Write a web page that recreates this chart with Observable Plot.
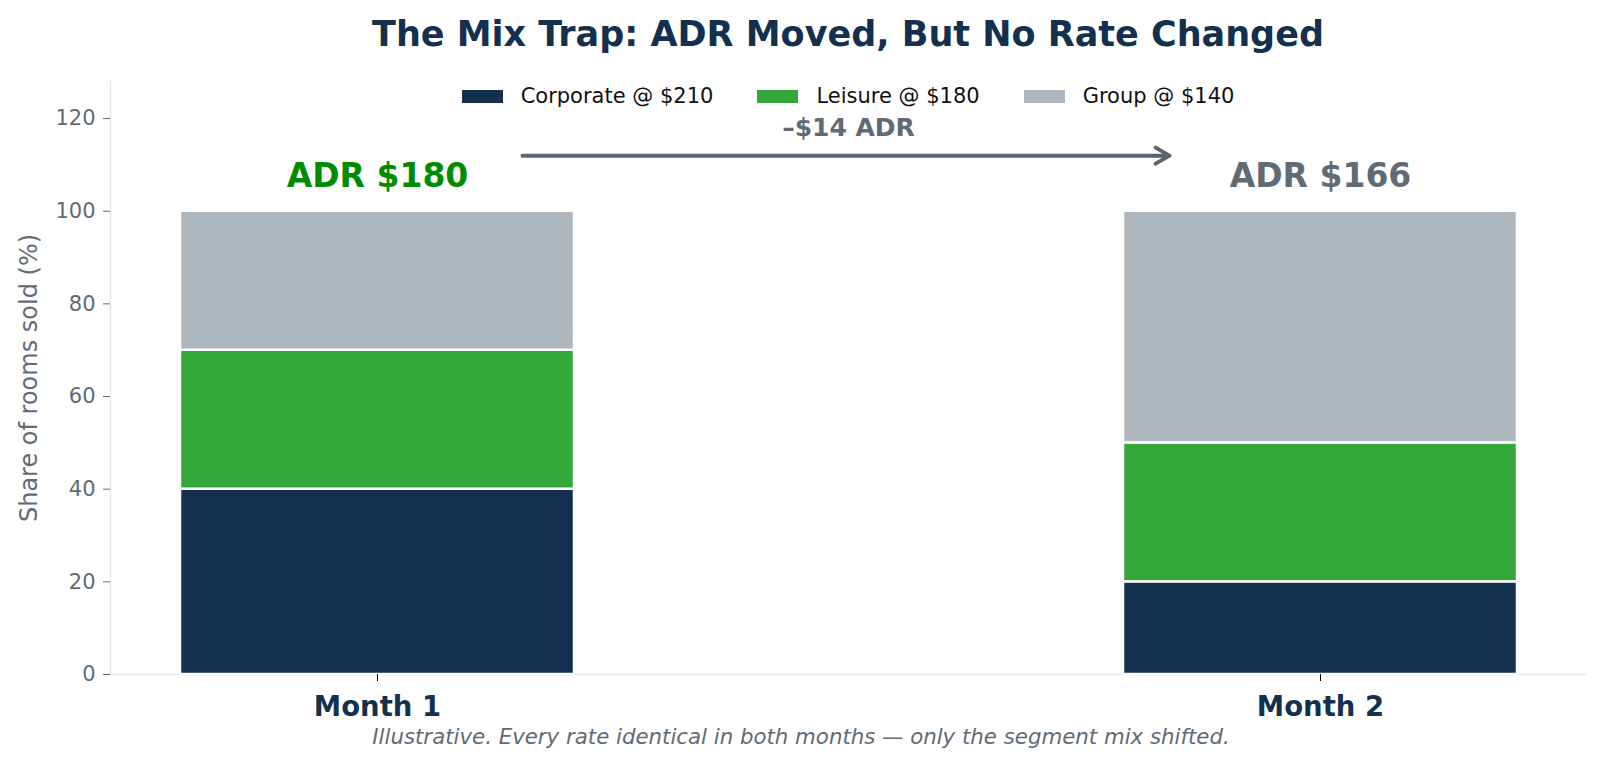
<!DOCTYPE html>
<html>
<head>
<meta charset="utf-8">
<script src="https://cdn.jsdelivr.net/npm/d3@7"></script>
<script src="https://cdn.jsdelivr.net/npm/@observablehq/plot@0.6"></script>
<style>
  html, body { margin: 0; padding: 0; background: #fff; font-family: "DejaVu Sans", sans-serif; }
  #wrap { position: relative; width: 1602px; height: 765px; }
  #title { position: absolute; left: 0; width: 1696px; top: 12px; text-align: center; font-size: 35px; font-weight: bold; color: #13304f; line-height: 44px; }
  #chart { position: absolute; left: 0; top: 60px; }
  #legend { position: absolute; top: 84px; left: 0; width: 1696px; display: flex; justify-content: center; font-size: 21px; color: #111; line-height: 24px; }
  .item { display: flex; align-items: center; margin: 0 22px; }
  .sw { width: 41px; height: 13px; margin-right: 18px; }
  #caption { position: absolute; left: 0; width: 1602px; top: 723px; text-align: center; font-size: 21.3px; font-style: italic; color: #5f6b75; line-height: 28px; }
</style>
</head>
<body>
<div id="wrap">
  <div id="title">The Mix Trap: ADR Moved, But No Rate Changed</div>
  <div id="chart"></div>
  <div id="legend"></div>
  <div id="caption">Illustrative. Every rate identical in both months — only the segment mix shifted.</div>
</div>
<script>
// ---- data ----
const months = ["Month 1", "Month 2"];
const segments = ["Corporate", "Leisure", "Group"];
const rates = [210, 180, 140];
const colors = ["#13304f", "#34a73a", "#aeb7bd"];
const corporateShare = [40, 20];
const leisureShare = [30, 30];
const groupShare = [30, 50];
const adrColors = ["#008c00", "#5f6b75"];
const yTicks = [0, 20, 40, 60, 80, 100, 120];
const adrLabelY = 107.5;
const arrowY = 112;
const deltaLabelY = 118;

const shares = [corporateShare, leisureShare, groupShare];
const data = [];
months.forEach((m, i) => {
  segments.forEach((s, j) => data.push({month: m, segment: s, share: shares[j][i]}));
});
const adr = months.map((m, i) => segments.reduce((acc, s, j) => acc + shares[j][i] * rates[j] / 100, 0));
const adrData = months.map((m, i) => ({month: m, adr: adr[i], color: adrColors[i]}));
const delta = Math.round(adr[1] - adr[0]);
const labels = segments.map((s, j) => `${s} @ $${rates[j]}`);

// legend (HTML)
const lg = document.getElementById("legend");
segments.forEach((s, j) => {
  const it = document.createElement("div");
  it.className = "item";
  it.innerHTML = `<span class="sw" style="background:${colors[j]}"></span><span>${labels[j]}</span>`;
  lg.appendChild(it);
});

const chart = Plot.plot({
  width: 1602,
  height: 664,
  marginLeft: 110,
  marginRight: 16,
  marginTop: 21,
  marginBottom: 50,
  style: {fontFamily: "DejaVu Sans", background: "transparent"},
  x: {domain: months, paddingInner: 0.5826, paddingOuter: 0.0731, align: 0.5, label: null},
  y: {domain: [0, 128], label: null},
  color: {domain: segments, range: colors},
  marks: [
    Plot.frame({anchor: "left", stroke: "#e3e7ea", strokeWidth: 1.5}),
    Plot.ruleY([0], {stroke: "#e3e7ea", strokeWidth: 1.5}),
    Plot.barY(data, {x: "month", y: "share", fill: "segment", stroke: "white", strokeWidth: 2.5}),
    Plot.axisY({ticks: yTicks, tickSize: 7, tickPadding: 8, fontSize: 21, stroke: "#5f6b75", fill: "#5f6b75", label: null}),
    Plot.axisX({tickSize: 7, tickPadding: 15, fontSize: 27.5, fontWeight: "bold", stroke: "#000", fill: "#13304f", label: null}),
    Plot.text(["Share of rooms sold (%)"], {frameAnchor: "left", textAnchor: "middle", rotate: -90, dx: -81, fontSize: 24, fill: "#5f6b75"}),
    Plot.text(adrData, {x: "month", y: () => adrLabelY, text: d => `ADR $${d.adr}`, fill: "color", fontSize: 33, fontWeight: "bold"}),
    Plot.arrow([{a: months[0], b: months[1], y: arrowY}], {x1: "a", x2: "b", y1: "y", y2: "y", bend: 0, stroke: "#5a6570", strokeWidth: 4, strokeLinecap: "round", strokeLinejoin: "round", headLength: 6, insetStart: 145, insetEnd: 151}),
    Plot.text([`\u2013$${Math.abs(delta)} ADR`], {frameAnchor: "middle", y: () => deltaLabelY, fontSize: 25, fontWeight: "bold", fill: "#5f6b75"})
  ]
});
document.getElementById("chart").appendChild(chart);
</script>
</body>
</html>
